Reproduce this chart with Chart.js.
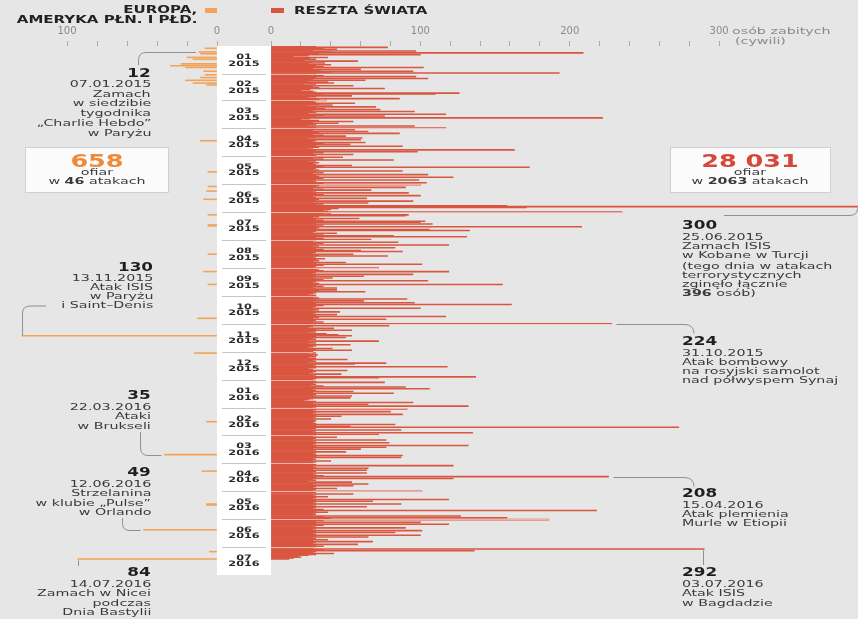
<!DOCTYPE html>
<html lang="pl">
<head>
<meta charset="utf-8">
<title>Ofiary zamachów 2015–2016</title>
<script src="https://cdn.jsdelivr.net/npm/chart.js@4.4.1/dist/chart.umd.min.js"></script>
<style>
  html, body { margin: 0; padding: 0; background: #e6e6e6; }
  #wrap { position: relative; width: 858px; height: 619px; overflow: hidden; background: #e6e6e6;
          font-family: "DejaVu Sans", sans-serif; color: #3a3a3a; }
  #wrap canvas { position: absolute; left: 0; top: 0; }
  .t { position: absolute; white-space: nowrap; font-size: 9.5px; line-height: 10px; }
  .num { font-weight: bold; font-size: 12px; line-height: 12px; color: #1e1e1e; }
  .mon { font-weight: bold; font-size: 7.5px; line-height: 8px; color: #2a2a2a; }
  .leg { font-weight: bold; font-size: 10px; line-height: 10px; color: #222; }
  .big { font-weight: bold; font-size: 17px; line-height: 17px; }
  .axis { color: #8a8a8a; }
  .box { position: absolute; background: #fbfbfb; border: 1px solid #cfcfcf; }
  .sq { position: absolute; height: 5px; }
</style>
</head>
<body>
<div id="wrap">
  <div class="box" style="left:25px;top:147px;width:142px;height:44px"></div>
  <div class="box" style="left:670px;top:147px;width:159px;height:44px"></div>
  <div class="sq" style="left:205px;top:8px;width:12px;background:#f4a256"></div>
  <div class="sq" style="left:271px;top:8px;width:13px;background:#d95640"></div>
  <canvas id="left" width="858" height="619"></canvas>
  <canvas id="right" width="858" height="619"></canvas>
</div>
<script>
// months on the axis (Jan 2015 - Jul 2016)
const MONTH_DAYS  = [31, 28, 31, 30, 31, 30, 31, 31, 30, 31, 30, 31, 31, 29, 31, 30, 31, 30, 31];
const MONTH_NUMS  = ['01','02','03','04','05','06','07','08','09','10','11','12','01','02','03','04','05','06','07'];
const MONTH_YEARS = ['2015','2015','2015','2015','2015','2015','2015','2015','2015','2015','2015','2015',
                     '2016','2016','2016','2016','2016','2016','2016'];

// rest of the world - civilians killed per day
const world2015Jan = [30,78,35,44,28,97,40,209,32,100,25,15,38,26,30,22,58,28,36,25,40,30,35,102,28,60,33,95,40,193,30];
const world2015Feb = [24,35,97,30,105,28,63,25,38,42,30,22,55,28,32,76,26,20,28,30,126,110,35,54,30,25,86,32];
const world2015Mar = [37,28,30,56,32,41,25,70,30,36,73,28,96,30,25,117,35,76,30,222,26,20,32,55,28,45,30,25,96,30,117];
const world2015Apr = [30,56,28,65,32,86,28,35,50,30,61,25,60,30,28,63,35,53,30,88,32,28,25,163,30,98,35,28,55,30];
const world2015May = [30,48,28,35,82,30,25,32,28,30,54,35,173,30,28,32,88,30,35,28,105,30,32,122,35,30,99,28,30,104,35];
const world2015Jun = [100,32,30,90,28,35,67,30,28,92,30,35,100,28,30,64,32,30,95,28,65,35,30,158,396,171,45,40,35,38];
const world2015Jul = [235,40,35,92,90,32,28,59,30,35,103,100,30,108,35,30,208,32,30,106,133,30,28,44,35,30,82,131,30,35,67];
const world2015Aug = [30,28,85,35,30,119,32,28,83,30,35,60,88,30,28,55,32,78,30,28,36,30,32,28,50,30,101,35,30,28,72];
const world2015Sep = [32,30,35,119,30,28,95,30,62,28,41,30,35,105,30,28,32,155,30,35,28,44,30,44,32,63,30,28,25,30];
const world2015Oct = [30,28,32,91,30,62,28,96,30,161,35,30,28,100,30,32,28,46,30,28,44,30,117,32,28,77,30,28,35,30,228];
const world2015Nov = [30,79,28,25,42,30,54,28,30,25,37,45,54,30,50,28,30,25,72,28,30,25,53,30,28,25,41,30,54,28];
const world2015Dec = [28,30,25,31,28,30,25,30,51,28,30,25,77,56,30,28,118,30,25,28,51,30,28,25,47,30,28,137,72,30,28];
const world2016Jan = [28,30,76,28,30,26,35,90,30,106,28,30,55,28,82,30,28,54,30,53,28,25,22,30,95,28,65,30,132,30,28];
const world2016Feb = [91,30,28,80,30,28,88,30,47,28,30,40,28,30,29,28,30,83,30,53,273,30,28,87,30,28,135,30,72];
const world2016Mar = [30,28,44,30,28,77,30,28,79,30,28,132,30,77,28,60,30,28,50,30,28,30,88,30,87,28,30,28,40,30,28];
const world2016Apr = [21,30,122,28,30,65,28,64,30,28,64,30,28,35,226,30,122,28,30,25,54,30,65,28,55,30,28,44,30,28];
const world2016May = [101,30,28,55,30,28,38,30,28,119,30,68,28,30,87,30,28,64,30,28,35,218,30,38,28,30,28,127,35,158,40];
const world2016Jun = [186,35,30,100,30,119,35,30,28,90,30,28,101,30,83,28,30,100,30,65,28,30,38,28,68,30,28,58,30,35];
const world2016Jul = [30,28,290,35,136,30,28,42,30,25,18,20,15,12];

// Europe and the Americas - attacks by date
const europeDates  = ['2015-01-03','2015-01-07','2015-01-09','2015-01-13','2015-01-15','2015-01-20','2015-01-22',
                      '2015-01-24','2015-01-28','2015-02-01','2015-02-04','2015-02-07','2015-02-10','2015-02-12',
                      '2015-04-14','2015-05-18','2015-06-03','2015-06-08','2015-06-17','2015-07-04','2015-07-15',
                      '2015-07-16','2015-08-16','2015-09-04','2015-09-18','2015-10-25','2015-11-13','2015-12-02',
                      '2016-02-15','2016-03-22','2016-04-09','2016-05-15','2016-05-16','2016-06-12','2016-07-06',
                      '2016-07-14'];
const europeValues = [8,12,11,20,16,24,31,21,9,8,11,21,16,7,11,6,6,7,9,6,6,6,6,9,6,13,130,15,7,35,10,7,7,49,5,93];

const RED = '#d95640';
const ORANGE = '#f4a256';
const RIGHT_MAX = 393;
const LEFT_MAX = 144.7;

Chart.defaults.font.family = '"DejaVu Sans", sans-serif';

const dayLabels = [];
const monthStarts = [];
MONTH_DAYS.forEach((n, m) => {
  monthStarts.push(dayLabels.length);
  for (let d = 1; d <= n; d++) {
    dayLabels.push(MONTH_YEARS[m] + '-' + MONTH_NUMS[m] + '-' + String(d).padStart(2, '0'));
  }
});

const worldSeries = [].concat(world2015Jan, world2015Feb, world2015Mar, world2015Apr, world2015May, world2015Jun,
  world2015Jul, world2015Aug, world2015Sep, world2015Oct, world2015Nov, world2015Dec,
  world2016Jan, world2016Feb, world2016Mar, world2016Apr, world2016May, world2016Jun, world2016Jul);
while (worldSeries.length < dayLabels.length) worldSeries.push(null);

const europeSeries = dayLabels.map(() => null);
europeDates.forEach((d, i) => { europeSeries[dayLabels.indexOf(d)] = europeValues[i]; });

const dayIndex = d => dayLabels.indexOf(d);

function axisX(side) {
  const right = side === 'right';
  return {
    type: 'linear', position: 'top', min: 0, max: right ? RIGHT_MAX : LEFT_MAX, reverse: !right,
    grid: { drawOnChartArea: false, drawTicks: true, tickLength: 5, tickColor: '#ababab', tickWidth: 1 },
    border: { display: false },
    afterBuildTicks: axis => { axis.ticks = axis.ticks.filter(t => t.value <= (right ? 300 : 100)); },
    ticks: { stepSize: 20, autoSkip: false, maxRotation: 0, padding: 4, color: '#8a8a8a', font: { size: 10 },
             callback: v => (v % 100 === 0 ? String(v) : '') }
  };
}

function path(ctx, pts) {
  ctx.beginPath();
  pts(ctx);
  ctx.stroke();
}

// white column with month separators, and light month lines across the red bars
const monthColumn = {
  id: 'monthColumn',
  beforeDatasetsDraw(chart) {
    const { ctx, chartArea, scales: { y } } = chart;
    const band = (chartArea.bottom - chartArea.top) / dayLabels.length;
    ctx.save();
    ctx.fillStyle = '#ffffff';
    ctx.fillRect(217, chartArea.top, chartArea.left - 217, chartArea.bottom - chartArea.top);
    ctx.strokeStyle = '#c6c6c6';
    ctx.lineWidth = 1;
    monthStarts.slice(1).forEach(s => {
      const yy = Math.round(y.getPixelForValue(s) - band / 2) + 0.5;
      path(ctx, c => { c.moveTo(222, yy); c.lineTo(266, yy); });
    });
    ctx.restore();
  },
  afterDatasetsDraw(chart) {
    const { ctx, chartArea, scales: { x, y } } = chart;
    const band = (chartArea.bottom - chartArea.top) / dayLabels.length;
    ctx.save();
    ctx.strokeStyle = 'rgba(255,255,255,0.55)';
    ctx.lineWidth = 1;
    monthStarts.slice(1).forEach(s => {
      const v = Math.max(worldSeries[s - 1] || 0, worldSeries[s] || 0);
      const yy = Math.round(y.getPixelForValue(s) - band / 2) + 0.5;
      path(ctx, c => { c.moveTo(chartArea.left, yy); c.lineTo(x.getPixelForValue(Math.min(v, RIGHT_MAX)), yy); });
    });
    ctx.restore();
  }
};

// connector lines of the right-hand notes
const rightLinks = {
  id: 'rightLinks',
  afterDraw(chart) {
    const { ctx, scales: { x, y } } = chart;
    const at = d => ({ x: x.getPixelForValue(Math.min(worldSeries[dayIndex(d)], RIGHT_MAX)), y: y.getPixelForValue(dayIndex(d)) });
    ctx.save();
    ctx.strokeStyle = '#8f8f8f';
    ctx.lineWidth = 1;
    const kob = at('2015-06-25');
    path(ctx, c => { c.moveTo(724, 215.5); c.lineTo(849, 215.5); c.quadraticCurveTo(857.5, 215.5, 857.5, kob.y + 2); });
    ['2015-10-31', '2016-04-15'].forEach(d => {
      const p = at(d);
      const yy = Math.round(p.y) + 0.5;
      path(ctx, c => { c.moveTo(p.x + 5, yy); c.lineTo(684, yy); c.quadraticCurveTo(694, yy, 694, yy + 9); });
    });
    const bag = at('2016-07-03');
    path(ctx, c => { c.moveTo(Math.round(bag.x) - 0.5, bag.y + 1.5); c.lineTo(Math.round(bag.x) - 0.5, 565); });
    ctx.restore();
  }
};

// connector lines of the left-hand notes
const leftLinks = {
  id: 'leftLinks',
  afterDraw(chart) {
    const { ctx, scales: { x, y } } = chart;
    const at = d => ({ x: x.getPixelForValue(europeSeries[dayIndex(d)]), y: Math.round(y.getPixelForValue(dayIndex(d))) + 0.5 });
    ctx.save();
    ctx.strokeStyle = '#8f8f8f';
    ctx.lineWidth = 1;
    const ch = at('2015-01-07');
    path(ctx, c => { c.moveTo(ch.x - 3, ch.y); c.lineTo(146, ch.y); c.quadraticCurveTo(138.5, ch.y, 138.5, ch.y + 8); c.lineTo(138.5, 65); });
    const pa = at('2015-11-13');
    path(ctx, c => { c.moveTo(pa.x + 0.5, pa.y - 1); c.lineTo(pa.x + 0.5, 313); c.quadraticCurveTo(pa.x + 0.5, 306, pa.x + 8, 306); c.lineTo(pa.x + 24, 306); });
    const br = at('2016-03-22');
    path(ctx, c => { c.moveTo(br.x - 3, br.y); c.lineTo(148, br.y); c.quadraticCurveTo(140.5, br.y, 140.5, br.y - 8); c.lineTo(140.5, 432); });
    const orl = at('2016-06-12');
    path(ctx, c => { c.moveTo(orl.x - 3, orl.y); c.lineTo(130, orl.y); c.quadraticCurveTo(122.5, orl.y, 122.5, orl.y - 7); c.lineTo(122.5, 518); });
    const ni = at('2016-07-14');
    path(ctx, c => { c.moveTo(Math.round(ni.x) + 0.5, ni.y + 1); c.lineTo(Math.round(ni.x) + 0.5, 566); });
    ctx.restore();
  }
};

const leftChart = new Chart(document.getElementById('left'), {
  type: 'bar',
  data: { labels: dayLabels, datasets: [{ label: 'Europa, Ameryka Płn. i Płd.', data: europeSeries, backgroundColor: ORANGE,
          borderWidth: 0, barPercentage: 1, categoryPercentage: 1 }] },
  options: {
    indexAxis: 'y', responsive: false, animation: false, devicePixelRatio: 1,
    layout: { padding: { left: 0, right: 641, top: 21, bottom: 44 } },
    plugins: { legend: { display: false }, tooltip: { enabled: false } },
    scales: { x: axisX('left'), y: { display: false } }
  },
  plugins: [leftLinks]
});

const rightChart = new Chart(document.getElementById('right'), {
  type: 'bar',
  data: { labels: dayLabels, datasets: [{ label: 'Reszta świata', data: worldSeries, backgroundColor: RED,
          borderWidth: 0, barPercentage: 1, categoryPercentage: 1 }] },
  options: {
    indexAxis: 'y', responsive: false, animation: false, devicePixelRatio: 1,
    layout: { padding: { left: 271, right: 0, top: 21, bottom: 44 } },
    plugins: { legend: { display: false }, tooltip: { enabled: false } },
    scales: { x: axisX('right'), y: { display: false } }
  },
  plugins: [monthColumn, rightLinks]
});

// ---- text ----
const wrap = document.getElementById('wrap');
function addText(html, x, y, align, cls, stretch) {
  const el = document.createElement('div');
  el.className = 't ' + (cls || '');
  el.innerHTML = html;
  const s = stretch || 1.5;
  el.style.top = y + 'px';
  if (align === 'right') {
    el.style.right = (858 - x) + 'px';
    el.style.transformOrigin = '100% 50%';
    el.style.transform = 'translateY(-50%) scaleX(' + s + ')';
  } else if (align === 'left') {
    el.style.left = x + 'px';
    el.style.transformOrigin = '0 50%';
    el.style.transform = 'translateY(-50%) scaleX(' + s + ')';
  } else {
    el.style.left = x + 'px';
    el.style.transformOrigin = '50% 50%';
    el.style.transform = 'translate(-50%,-50%) scaleX(' + s + ')';
  }
  wrap.appendChild(el);
  return el;
}

addText('EUROPA,', 197, 10, 'right', 'leg');
addText('AMERYKA PŁN. I PŁD.', 197, 19.5, 'right', 'leg');
addText('RESZTA ŚWIATA', 294, 10.5, 'left', 'leg');
addText('osób zabitych', 732, 31, 'left', 'axis');
addText('(cywili)', 735, 41, 'left', 'axis');

// month column labels, placed on the day scale
const ys = rightChart.scales.y;
const band = (rightChart.chartArea.bottom - rightChart.chartArea.top) / dayLabels.length;
monthStarts.forEach((s, m) => {
  const mid = ys.getPixelForValue(s) - band / 2 + MONTH_DAYS[m] * band / 2;
  addText(MONTH_NUMS[m], 244, mid - 3, 'center', 'mon');
  addText(MONTH_YEARS[m], 244, mid + 3.4, 'center', 'mon');
});

// totals
addText('658', 96.5, 160.5, 'center', 'big').style.color = '#ef8a3a';
addText('ofiar', 96.5, 171.5, 'center');
addText('w <b>46</b> atakach', 96.5, 181, 'center');
addText('28 031', 750, 160.5, 'center', 'big').style.color = '#d4473a';
addText('ofiar', 750, 171.5, 'center');
addText('w <b>2063</b> atakach', 750, 181, 'center');

// notes
const notes = [
  { x: 151, y: 72.5, align: 'right', step: 9.7, num: '12',
    lines: ['07.01.2015', 'Zamach', 'w siedzibie', 'tygodnika', '„Charlie Hebdo”', 'w Paryżu'] },
  { x: 153, y: 266.5, align: 'right', step: 9.1, num: '130',
    lines: ['13.11.2015', 'Atak ISIS', 'w Paryżu', 'i Saint–Denis'] },
  { x: 151, y: 395, align: 'right', step: 9.5, num: '35',
    lines: ['22.03.2016', 'Ataki', 'w Brukseli'] },
  { x: 151, y: 472, align: 'right', step: 9.5, num: '49',
    lines: ['12.06.2016', 'Strzelanina', 'w klubie „Pulse”', 'w Orlando'] },
  { x: 151, y: 572, align: 'right', step: 9.5, num: '84',
    lines: ['14.07.2016', 'Zamach w Nicei', 'podczas', 'Dnia Bastylii'] },
  { x: 682, y: 225, align: 'left', step: 9, num: '300',
    lines: ['25.06.2015', 'Zamach ISIS', 'w Kobane w Turcji', '', '(tego dnia w atakach', 'terrorystycznych',
            'zginęło łącznie', '<b>396</b> osób)'] },
  { x: 682, y: 341, align: 'left', step: 9, num: '224',
    lines: ['31.10.2015', 'Atak bombowy', 'na rosyjski samolot', 'nad półwyspem Synaj'] },
  { x: 682, y: 493, align: 'left', step: 9, num: '208',
    lines: ['15.04.2016', 'Atak plemienia', 'Murle w Etiopii'] },
  { x: 682, y: 572, align: 'left', step: 9.5, num: '292',
    lines: ['03.07.2016', 'Atak ISIS', 'w Bagdadzie'] }
];
notes.forEach(n => {
  addText(n.num, n.x, n.y, n.align, 'num', 1.4);
  let yy = n.y + 11.5;
  n.lines.forEach(line => {
    if (line === '') { yy += 2.5; return; }
    addText(line, n.x, yy, n.align);
    yy += n.step;
  });
});
</script>
</body>
</html>
